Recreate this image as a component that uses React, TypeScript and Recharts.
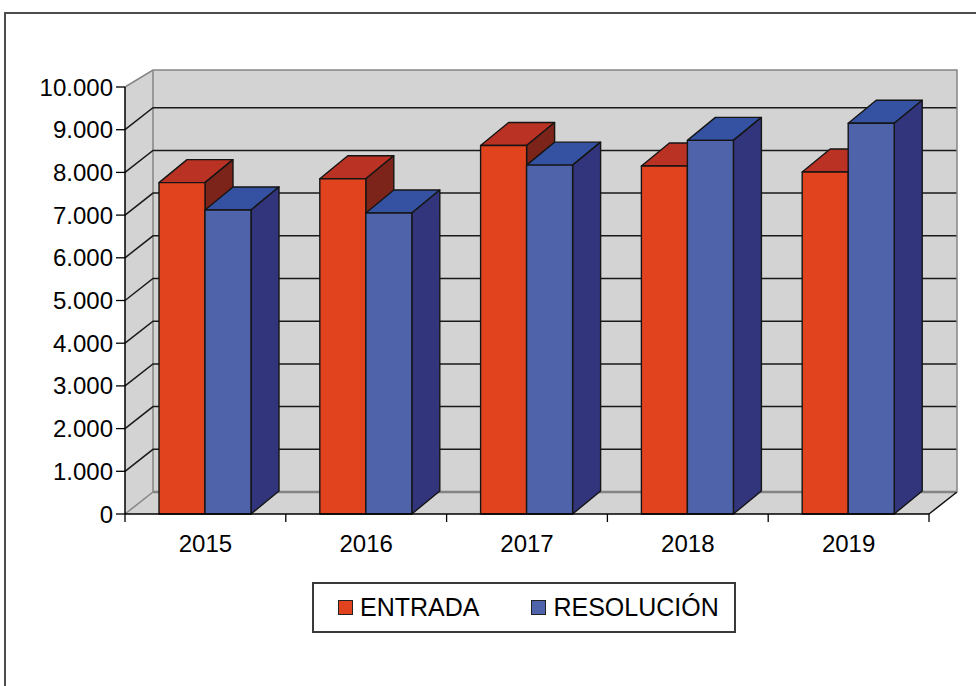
import React from 'react';
import { BarChart, Bar, XAxis, YAxis, CartesianGrid } from 'recharts';

const years = ['2015', '2016', '2017', '2018', '2019'];
const entrada = [7760, 7850, 8630, 8150, 8010];
const resolucion = [7120, 7050, 8170, 8750, 9150];
const yTicks = [0, 1000, 2000, 3000, 4000, 5000, 6000, 7000, 8000, 9000, 10000];
const seriesNames = ['ENTRADA', 'RESOLUCIÓN'];

const data = years.map((year, i) => ({
  year,
  entrada: entrada[i],
  resolucion: resolucion[i],
}));

const FONT = '"Liberation Sans", Arial, Helvetica, sans-serif';

// 3d look: depth offset of walls and bar boxes
const WALL_DX = 28;
const WALL_DY = 22;
const WALL_TOP_DY = 17;
const BAR_DX = 28;
const BAR_DY = 23;

const WALL = '#D3D3D3';
const EDGE = '#858585';

const colors = {
  entrada: { front: '#E2431F', top: '#BA3223', side: '#7C2419' },
  resolucion: { front: '#4F63AA', top: '#3452A1', side: '#32357B' },
};

const legendColors = [colors.entrada.front, colors.resolucion.front];

const makeBox = (c: { front: string; top: string; side: string }) => (props: any) => {
  const { x, y, width, height } = props;
  if (x == null || y == null || !width || height == null) return <g />;
  const r = x + width;
  const b = y + height;
  return (
    <g stroke="#151515" strokeWidth={1.4} strokeLinejoin="round">
      <polygon
        points={`${x},${y} ${x + BAR_DX},${y - BAR_DY} ${r + BAR_DX},${y - BAR_DY} ${r},${y}`}
        fill={c.top}
      />
      <polygon
        points={`${r},${y} ${r + BAR_DX},${y - BAR_DY} ${r + BAR_DX},${b - BAR_DY} ${r},${b}`}
        fill={c.side}
      />
      <rect x={x} y={y} width={width} height={height} fill={c.front} />
    </g>
  );
};

// grid lines drawn on the side wall + back wall; the first call also paints the walls
const renderWallLine = (props: any) => {
  const { x1, x2, y1, index } = props;
  const pts: number[] = props.horizontalPoints || [];
  const top = props.y != null ? props.y : Math.min(...pts);
  const bottom = props.y != null && props.height != null ? props.y + props.height : Math.max(...pts);
  const bx1 = x1 + WALL_DX;
  const bx2 = x2 + WALL_DX;
  const backTop = top - WALL_TOP_DY;
  const backBottom = bottom - WALL_DY;
  const isTop = Math.abs(y1 - top) < 0.5;
  const isBottom = Math.abs(y1 - bottom) < 0.5;

  let line: React.ReactNode;
  if (isTop) {
    line = (
      <g stroke={EDGE} strokeWidth={1.5} fill="none">
        <polyline points={`${x1},${y1} ${bx1},${backTop} ${bx2},${backTop} ${bx2},${backBottom}`} />
      </g>
    );
  } else if (isBottom) {
    line = (
      <g fill="none">
        <line x1={x1} y1={y1} x2={bx1} y2={backBottom} stroke={EDGE} strokeWidth={1.5} />
        <line x1={bx1} y1={backBottom} x2={bx2} y2={backBottom} stroke={EDGE} strokeWidth={2.5} />
        <line x1={x2} y1={y1} x2={bx2} y2={backBottom} stroke="#111" strokeWidth={1.5} />
      </g>
    );
  } else {
    const by = y1 - WALL_DY;
    line = (
      <polyline
        points={`${x1},${y1} ${bx1},${by} ${bx2},${by}`}
        fill="none"
        stroke="#1a1a1a"
        strokeWidth={1.5}
      />
    );
  }

  return (
    <g key={`wall-${index}`}>
      {index === 0 && (
        <g>
          <polygon
            points={`${x1},${top} ${bx1},${backTop} ${bx2},${backTop} ${bx2},${backBottom} ${x2},${bottom} ${x1},${bottom}`}
            fill={WALL}
            stroke="none"
          />
          <line x1={bx1} y1={backTop} x2={bx1} y2={backBottom} stroke={EDGE} strokeWidth={1.5} />
        </g>
      )}
      {line}
    </g>
  );
};

const YearTick = (props: any) => {
  const { x, y, payload, index, visibleTicksCount, width } = props;
  const half = payload && payload.offset ? payload.offset : width / visibleTicksCount / 2;
  const axisY = y - 8;
  return (
    <g>
      <line x1={x - half} y1={axisY} x2={x - half} y2={y} stroke="#000" strokeWidth={1.3} />
      {index === visibleTicksCount - 1 && (
        <line x1={x + half} y1={axisY} x2={x + half} y2={y} stroke="#000" strokeWidth={1.3} />
      )}
      <text x={x} y={y + 30} textAnchor="middle" fontSize={24} fontFamily={FONT} fill="#000">
        {payload.value}
      </text>
    </g>
  );
};

const formatThousands = (v: number) => v.toLocaleString('de-DE');

export default function App() {
  return (
    <div
      style={{
        position: 'absolute',
        left: 0,
        top: 0,
        width: 976,
        height: 686,
        overflow: 'hidden',
        background: '#fff',
        fontFamily: FONT,
      }}
    >
      <div
        style={{
          position: 'absolute',
          left: 4,
          top: 12,
          width: 990,
          height: 700,
          border: '2px solid #4d4d4d',
        }}
      />
      <div style={{ position: 'absolute', left: 0, top: 0 }}>
        <BarChart
          width={976}
          height={686}
          data={data}
          margin={{ top: 87, right: 47, bottom: 132, left: 65 }}
          barGap={0}
          barSize={46}
        >
          <CartesianGrid vertical={false} horizontal={renderWallLine} />
          <XAxis
            dataKey="year"
            height={40}
            axisLine={{ stroke: '#000', strokeWidth: 1.5 }}
            tickLine={false}
            tickSize={8}
            tickMargin={0}
            tick={<YearTick />}
            interval={0}
          />
          <YAxis
            width={60}
            domain={[0, 10000]}
            ticks={yTicks}
            interval={0}
            tickFormatter={formatThousands}
            axisLine={{ stroke: '#000', strokeWidth: 1.5 }}
            tickLine={{ stroke: '#000', strokeWidth: 1.3 }}
            tickSize={9}
            tickMargin={3}
            tick={{ fill: '#000', fontSize: 24, fontFamily: FONT }}
          />
          <Bar dataKey="entrada" name={seriesNames[0]} fill={colors.entrada.front} shape={makeBox(colors.entrada)} isAnimationActive={false} />
          <Bar dataKey="resolucion" name={seriesNames[1]} fill={colors.resolucion.front} shape={makeBox(colors.resolucion)} isAnimationActive={false} />
        </BarChart>
      </div>
      <div
        style={{
          position: 'absolute',
          left: 312,
          top: 582,
          width: 424,
          height: 51,
          boxSizing: 'border-box',
          border: '2px solid #3a3a3a',
          background: '#fff',
          display: 'flex',
          alignItems: 'center',
          paddingLeft: 24,
        }}
      >
        {seriesNames.map((name, i) => (
          <div key={name} style={{ display: 'flex', alignItems: 'center', marginRight: i === 0 ? 52 : 0 }}>
            <span
              style={{
                display: 'inline-block',
                width: 15,
                height: 15,
                boxSizing: 'border-box',
                border: '1px solid #222',
                background: legendColors[i],
                marginRight: 7,
              }}
            />
            <span style={{ fontSize: 25, lineHeight: '25px', color: '#000' }}>{name}</span>
          </div>
        ))}
      </div>
    </div>
  );
}
